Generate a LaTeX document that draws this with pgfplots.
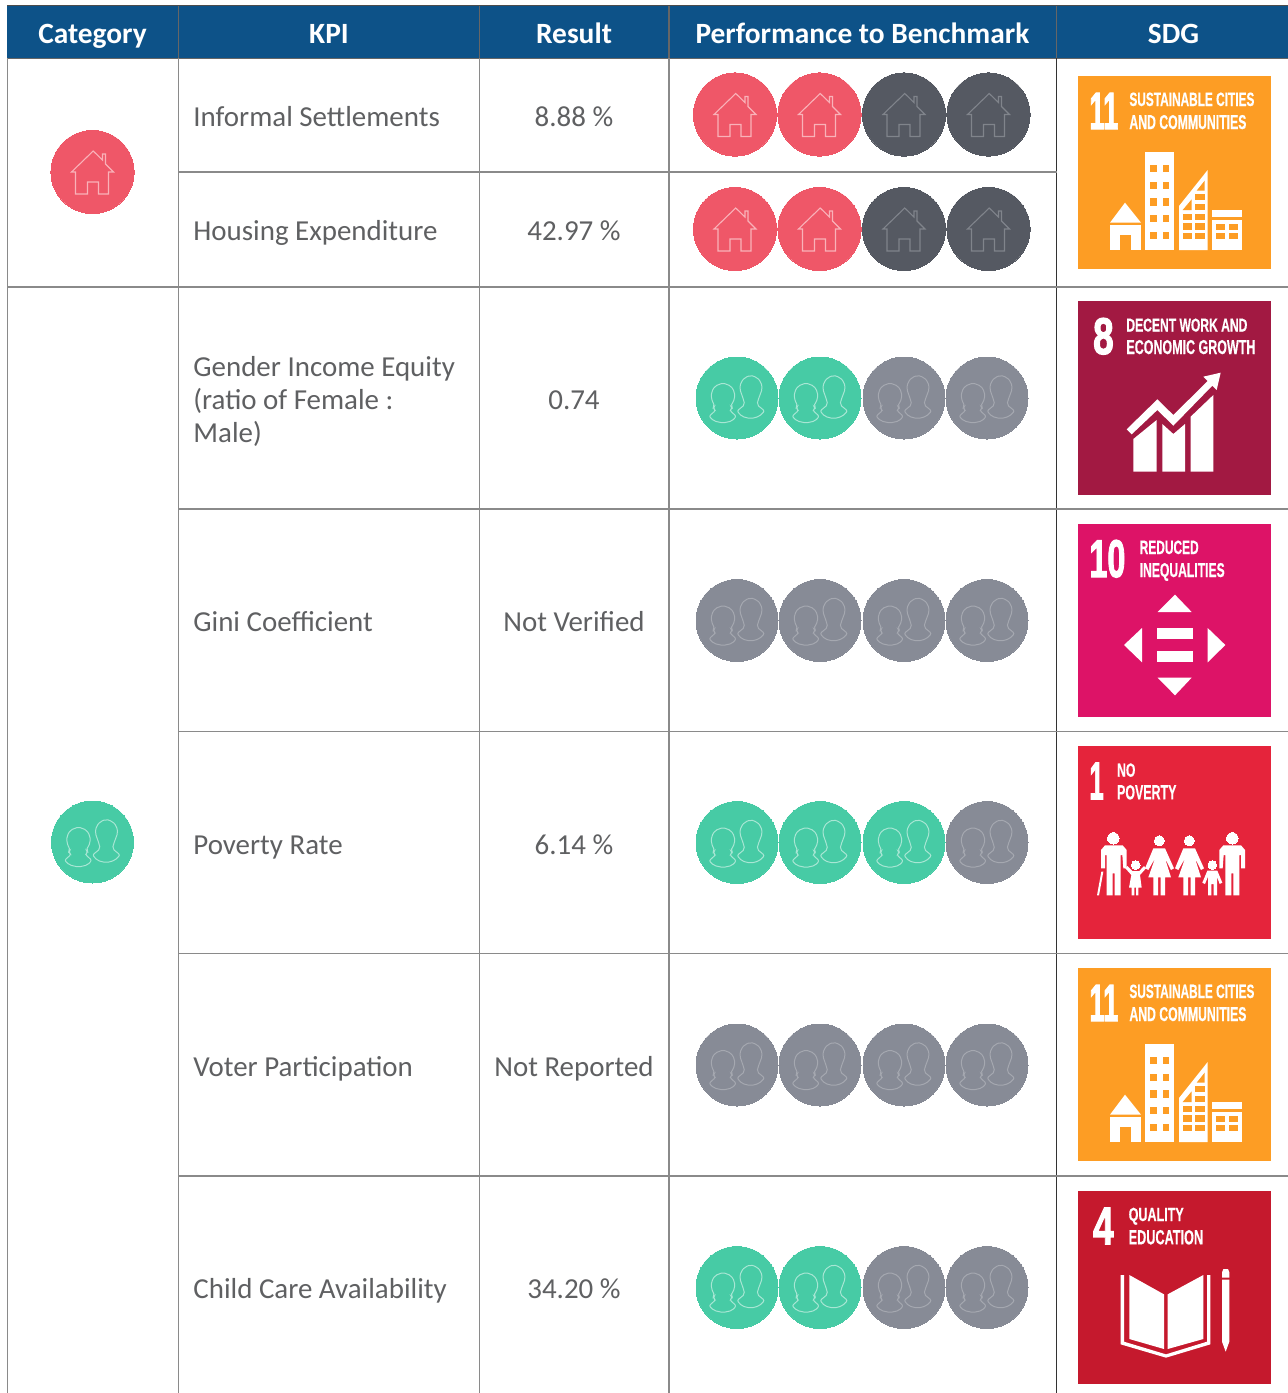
\documentclass[border=0pt]{standalone}
\usepackage{pgfplots}
\pgfplotsset{compat=1.18}
\usepackage{fontspec}
\setmainfont{Carlito}
\newfontfamily\sdgfont{Liberation Sans}[UprightFont=* Bold,FakeBold=0.5]
\newfontfamily\sdgnum{Liberation Sans}[UprightFont=* Bold,FakeBold=2.5]
\definecolor{hdr}{HTML}{0D5288}
\definecolor{gridc}{HTML}{8A8A8A}
\definecolor{txt}{HTML}{5F6062}
\definecolor{cred}{HTML}{EF5768}
\definecolor{cdark}{HTML}{555962}
\definecolor{cgreen}{HTML}{47CBA5}
\definecolor{cgray}{HTML}{878B96}
\definecolor{iconred}{HTML}{F9B2B9}
\definecolor{icondark}{HTML}{80848B}
\definecolor{icongreen}{HTML}{A8E6D4}
\definecolor{icongray}{HTML}{A5A8B0}
\definecolor{s11}{HTML}{FD9D24}
\definecolor{s8}{HTML}{A21942}
\definecolor{s10}{HTML}{DD1367}
\definecolor{s1}{HTML}{E5243B}
\definecolor{s4}{HTML}{C5192D}
\pgfdeclareplotmark{house}{%
  \draw[x=0.5pt,y=-0.5pt,line width=0.55pt,line join=miter]
   (0.7,-21)--(10,-12)--(10,-18)--(13,-18)--(13,-8)--(21,0)--(16,0)--(16,22)--(6,22)--(6,10)--(-5,10)--(-5,22)--(-17,22)--(-17,0)--(-21,0)--cycle;}
\pgfdeclareplotmark{people}{%
  \draw[x=0.5pt,y=-0.5pt,line width=0.5pt,rounded corners=1pt]
   (-22.3,8.3)--(-25.7,0.7)--(-25.5,-6)--(-22,-12)--(-14,-15)--(-6,-12)--(-2.5,-6)--(-2.3,0.7)--(-6.3,8.3)--(-4.5,10)--(-7.3,12.3)--(-0.7,18.3)--(-5,23)--(-14,25)--(-23,23)--(-28,18.3)--(-21.3,12.3)--(-24,10)--cycle;
  \draw[x=0.5pt,y=-0.5pt,line width=0.5pt,rounded corners=1pt]
   (6.7,2.3)--(2.7,-9.3)--(4,-16)--(8,-20.5)--(13.7,-22.7)--(20,-20.5)--(24,-16)--(25.3,-9.3)--(21,2.3)--(20,6.7)--(27.7,13)--(22,18.5)--(13.7,20.7)--(5,18.5)--(0,13)--(7.7,6.7)--cycle;}
% filled polygon in plain pixel coordinates
\newcommand{\R}[5]{\addplot[fill=#1,draw=none,forget plot] coordinates {(#2,#3)(#4,#3)(#4,#5)(#2,#5)} -- cycle;}
% line
\newcommand{\Ln}[5][gridc]{\addplot[draw=#1,line width=0.65pt,forget plot] coordinates {(#2,#3)(#4,#5)};}
% polygon in crop coordinates (offset \ox,\oy, three crop units per pixel)
\def\ox{0}\def\oy{0}
\newcommand{\Z}[2]{\addplot[fill=#1,draw=none,forget plot,x filter/.expression={\ox+x/3},y filter/.expression={\oy+y/3}] coordinates {#2} -- cycle;}
\newcommand{\ZR}[5]{\Z{#1}{(#2,#3)(#4,#3)(#4,#5)(#2,#5)}}
% SDG text fitted to measured box
\newcommand{\ST}[5][]{\node[anchor=base west,inner sep=0pt,text=white] at (axis cs:#2,#3) {\resizebox{\dimexpr #4pt/2\relax}{\dimexpr #5pt/2\relax}{\sdgfont #1}};}
\newcommand{\SN}[5][]{\node[anchor=base west,inner sep=0pt,text=white] at (axis cs:#2,#3) {\resizebox{\dimexpr #4pt/2\relax}{\dimexpr #5pt/2\relax}{\sdgnum #1}};}
\newcommand{\Hd}[2]{\node[anchor=base,inner sep=0pt,text=white,font=\fontsize{14.7pt}{16pt}\selectfont\bfseries] at (axis cs:#1,43) {#2};}
\newcommand{\Tx}[3]{\node[anchor=base west,inner sep=0pt,text=txt,font=\fontsize{14.47pt}{16pt}\selectfont] at (axis cs:#1,#2) {#3};}
\newcommand{\Tc}[3]{\node[anchor=base,inner sep=0pt,text=txt,font=\fontsize{14.47pt}{16pt}\selectfont] at (axis cs:#1,#2) {#3};}
% circles and their icons
\newcommand{\CircC}[4]{\addplot[only marks,forget plot,mark=*,mark size=#2pt,mark options={draw=c#1,fill=c#1,line width=0pt}] coordinates {#3};
  \addplot[only marks,forget plot,mark=#4,mark options={draw=icon#1,fill=none}] coordinates {#3};}
\newcommand{\Eleven}[1]{%
  \def\ox{1070}\def\oy{#1}%
  \ZR{s11}{24}{18}{603}{597}
  \ZR{white}{224}{247}{313}{540}
  \ZR{s11}{240}{285}{261}{307}\ZR{s11}{278}{285}{298}{307}
  \ZR{s11}{240}{335}{261}{357}\ZR{s11}{278}{335}{298}{357}
  \ZR{s11}{240}{385}{261}{407}\ZR{s11}{278}{385}{298}{407}
  \ZR{s11}{240}{435}{261}{457}\ZR{s11}{278}{435}{298}{457}
  \ZR{s11}{240}{485}{261}{507}\ZR{s11}{278}{485}{298}{507}
  \Z{white}{(120,458)(165,398)(213,458)}
  \ZR{white}{120}{466}{213}{540}
  \ZR{s11}{150}{495}{183}{540}
  \Z{white}{(327,408)(413,300)(413,540)(327,540)}
  \ZR{s11}{338}{432}{365}{450}\ZR{s11}{376}{432}{404}{450}
  \ZR{s11}{338}{460}{365}{480}\ZR{s11}{376}{460}{404}{480}
  \ZR{s11}{338}{490}{365}{508}\ZR{s11}{376}{490}{404}{508}
  \ZR{s11}{376}{402}{404}{420}\ZR{s11}{376}{372}{404}{390}
  \Z{s11}{(338,420)(365,420)(365,388)}
  \Z{s11}{(404,332)(404,362)(380,362)}
  \ZR{white}{425}{421}{516}{442}
  \ZR{white}{425}{450}{516}{540}
  \ZR{s11}{437}{462}{465}{480}\ZR{s11}{477}{462}{505}{480}
  \ZR{s11}{437}{490}{465}{508}\ZR{s11}{477}{490}{505}{508}
}
\begin{document}
\begin{tikzpicture}
\begin{axis}[scale only axis,width=644pt,height=696.5pt,xmin=0,xmax=1288,ymin=0,ymax=1393,y dir=reverse,hide axis,clip=true]
% page ground
\R{white}{0}{0}{1288}{1393}
% header
\R{hdr}{7}{6}{1288}{58}
\Ln[black!70]{7}{5.5}{1288}{5.5}
\Ln[black!60]{7}{58.5}{1288}{58.5}
\Ln[black!60]{178.5}{6}{178.5}{58}
\Ln[black!60]{479.5}{6}{479.5}{58}
\Ln[black!60]{669}{6}{669}{58}
\Ln[black!60]{1056.5}{6}{1056.5}{58}
% grid
\Ln{7.5}{58}{7.5}{1393}
\Ln{178.5}{58}{178.5}{1393}
\Ln{479.5}{58}{479.5}{1393}
\Ln{669}{58}{669}{1393}
\Ln[black!80]{1056.5}{58}{1056.5}{1393}
\Ln{178.5}{172}{1056.5}{172}
\Ln{7.5}{287}{1288}{287}
\Ln{178.5}{509}{1288}{509}
\Ln{178.5}{731.5}{1288}{731.5}
\Ln{178.5}{953.5}{1288}{953.5}
\Ln{178.5}{1176}{1288}{1176}
% header text
\Hd{92.5}{Category}
\Hd{329}{KPI}
\Hd{574}{Result}
\Hd{862.5}{Performance to Benchmark}
\Hd{1173.5}{SDG}
% KPI
\Tx{193}{126}{Informal Settlements}
\Tx{193}{240}{Housing Expenditure}
\Tx{193}{376}{Gender Income Equity}
\Tx{193}{409}{(ratio of Female :}
\Tx{193}{442}{Male)}
\Tx{193}{631}{Gini Coefficient}
\Tx{193}{854}{Poverty Rate}
\Tx{193}{1076}{Voter Participation}
\Tx{193}{1298}{Child Care Availability}
% Result
\Tc{574}{126}{8.88 \%}
\Tc{574}{240}{42.97 \%}
\Tc{574}{409}{0.74}
\Tc{574}{631}{Not Verified}
\Tc{574}{854}{6.14 \%}
\Tc{574}{1076}{Not Reported}
\Tc{574}{1298}{34.20 \%}
% category circles
\CircC{red}{20.8}{(92.5,172)}{house}
\CircC{green}{20.5}{(92.5,842)}{people}
% benchmark circles
\CircC{red}{20.8}{(735,114.5)(819.5,114.5)(735,229)(819.5,229)}{house}
\CircC{dark}{20.8}{(904,114.5)(988.5,114.5)(904,229)(988.5,229)}{house}
\CircC{green}{20.5}{(737,398)(820,398)(737,842.5)(820,842.5)(904,842.5)(737,1287.5)(820,1287.5)}{people}
\CircC{gray}{20.5}{(904,398)(987,398)(737,620.5)(820,620.5)(904,620.5)(987,620.5)(987,842.5)(737,1065)(820,1065)(904,1065)(987,1065)(904,1287.5)(987,1287.5)}{people}
% SDG 11 (twice)
\Eleven{70}
\SN[11]{1089}{129}{29}{36}
\ST[SUSTAINABLE CITIES]{1129}{106}{125}{13.5}
\ST[AND COMMUNITIES]{1129}{129}{117}{14}
\Eleven{962}
\SN[11]{1089}{1021}{29}{36}
\ST[SUSTAINABLE CITIES]{1129}{998}{125}{13.5}
\ST[AND COMMUNITIES]{1129}{1021}{117}{14}
% SDG 8
\def\ox{1070}\def\oy{295}
\ZR{s8}{24}{18}{603}{600}
\Z{white}{(170,403)(262,313)(310,360)(413,258)(400,245)(452,233)(440,285)(427,272)(310,392)(262,345)(185,418)}
\Z{white}{(190,432)(260,375)(260,530)(190,530)}
\Z{white}{(277,387)(310,417)(345,387)(345,530)(277,530)}
\Z{white}{(362,365)(430,300)(430,530)(362,530)}
\SN[8]{1092.7}{354}{20.6}{36}
\ST[DECENT WORK AND]{1126}{331.5}{121}{13}
\ST[ECONOMIC GROWTH]{1126}{354}{129}{14}
% SDG 10
\def\ox{1070}\def\oy{520}
\ZR{s10}{24}{12}{603}{591}
\Z{white}{(263,276)(315,224)(365,276)}
\ZR{white}{260}{323}{370}{358}
\ZR{white}{260}{392}{370}{427}
\Z{white}{(263,473)(365,473)(315,526)}
\Z{white}{(216,324)(162,375)(216,427)}
\Z{white}{(413,324)(466,375)(413,427)}
\SN[10]{1089}{577}{36}{37}
\ST[REDUCED]{1139.3}{554}{59}{13.5}
\ST[INEQUALITIES]{1139.3}{577}{85}{14}
% SDG 1
\def\ox{1070}\def\oy{740}
\ZR{s1}{24}{18}{603}{597}
\Z{white}{(105,316)(158,316)(170,330)(170,385)(160,385)(157,345)(152,345)(152,466)(134,466)(134,400)(128,400)(128,466)(110,466)(110,345)(105,345)(105,385)(93,385)(93,330)}
\Z{white}{(94,395)(100,395)(87,466)(81,466)}
\Z{white}{(513,316)(460,316)(448,330)(448,385)(458,385)(461,345)(466,345)(466,466)(484,466)(484,400)(490,400)(490,466)(508,466)(508,345)(513,345)(513,385)(525,385)(525,330)}
\Z{white}{(250,325)(285,325)(312,385)(303,390)(285,355)(303,412)(285,412)(285,466)(272,466)(272,412)(264,412)(264,466)(250,466)(250,412)(235,412)(255,355)(235,390)(225,385)}
\def\ox{1100}
\Z{white}{(250,325)(285,325)(312,385)(303,390)(285,355)(303,412)(285,412)(285,466)(272,466)(272,412)(264,412)(264,466)(250,466)(250,412)(235,412)(255,355)(235,390)(225,385)}
\def\ox{1070}
\Z{white}{(172,378)(187,393)(208,393)(222,378)(228,385)(210,405)(215,443)(205,443)(205,466)(198,466)(198,443)(193,443)(193,466)(185,466)(185,443)(177,443)(184,405)(166,385)}
\Z{white}{(412,392)(442,392)(457,428)(449,432)(441,410)(441,466)(431,466)(431,432)(424,432)(424,466)(414,466)(414,410)(405,432)(397,428)}
\addplot[only marks,forget plot,mark=*,mark size=2.85pt,mark options={draw=white,fill=white,line width=0pt}] coordinates {(1113.3,838.3)(1232.3,838.3)};
\addplot[only marks,forget plot,mark=*,mark size=2.5pt,mark options={draw=white,fill=white,line width=0pt}] coordinates {(1159.3,840.7)(1189.3,840.7)};
\addplot[only marks,forget plot,mark=*,mark size=2.15pt,mark options={draw=white,fill=white,line width=0pt}] coordinates {(1135.7,865)(1212.3,865)};
\SN[1]{1089}{799.3}{14.3}{36.5}
\ST[NO]{1116.7}{776.7}{18.3}{13.4}
\ST[POVERTY]{1116.7}{799.3}{59.3}{14.3}
% SDG 4
\def\ox{1070}\def\oy{1185}
\ZR{s4}{24}{18}{603}{597}
\Z{white}{(178,270)(282,328)(282,492)(178,462)}
\Z{white}{(293,328)(400,270)(400,462)(293,492)}
\Z{white}{(152,270)(162,270)(162,470)(288,508)(411,470)(411,270)(421,270)(421,478)(288,518)(152,478)}
\Z{white}{(456,262)(460,252)(474,252)(478,262)(478,278)(456,278)}
\Z{white}{(456,284)(478,284)(478,470)(467,500)(456,470)}
\SN[4]{1092.7}{1244.3}{20.6}{36.6}
\ST[QUALITY]{1128.3}{1221}{55}{13.3}
\ST[EDUCATION]{1128.3}{1244.3}{74.4}{14.3}
\end{axis}
\end{tikzpicture}
\end{document}
